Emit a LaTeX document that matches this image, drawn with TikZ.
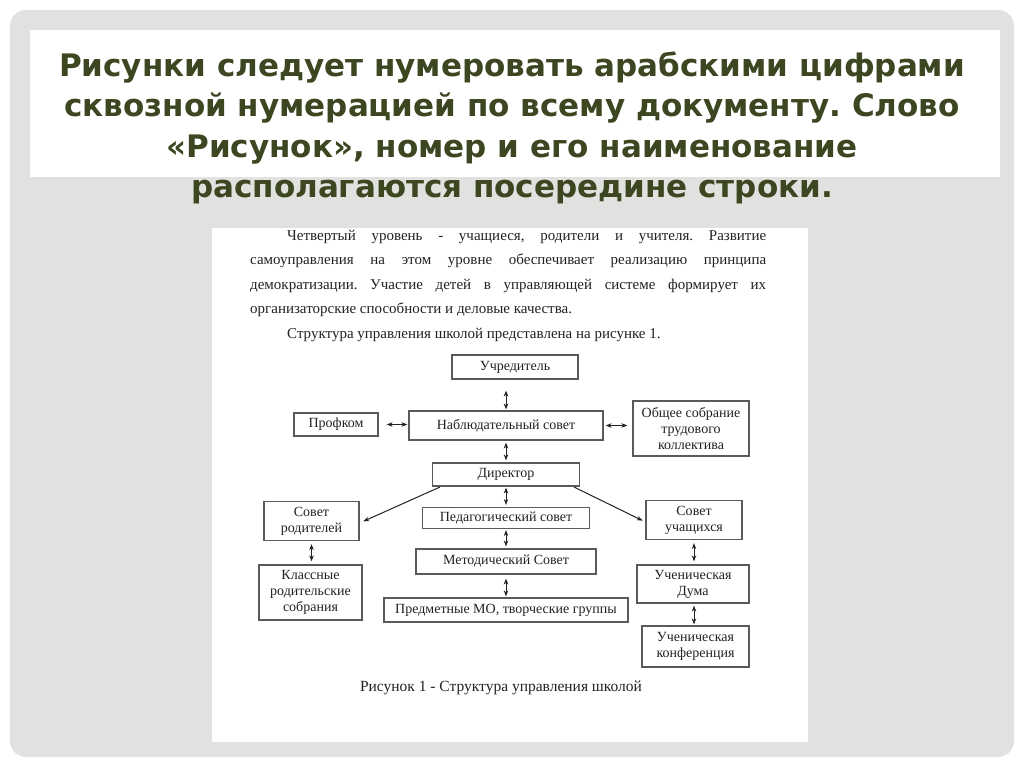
\documentclass[tikz,border=0pt]{standalone}
\usepackage{fontspec}
\setmainfont{Liberation Serif}
\newfontfamily\titlefont{DejaVu Sans}
\usetikzlibrary{arrows.meta}
\definecolor{panelc}{RGB}{225,225,223}
\definecolor{titlec}{RGB}{60,70,32}
\definecolor{docc}{RGB}{34,34,34}
\definecolor{boxc}{RGB}{90,90,90}
\frenchspacing
\tikzset{
  box/.style={draw=boxc, line width=1.2pt, fill=white, inner sep=1pt, align=center,
    text=docc, font=\fontsize{14}{16}\selectfont},
  arr/.style={{Stealth[length=6pt,width=4.5pt]}-{Stealth[length=6pt,width=4.5pt]}, line width=1pt, draw=docc},
  oarr/.style={-{Stealth[length=6pt,width=4.5pt]}, line width=1pt, draw=docc},
}
\begin{document}
\begin{tikzpicture}[x=1pt,y=-1pt]
\useasboundingbox (0,0) rectangle (1024,767);
\fill[white] (0,0) rectangle (1024,767);
\fill[panelc, rounded corners=16pt] (10,10) rectangle (1014,757);
\fill[white] (30,30) rectangle (1000,177);
\node[anchor=north, text=titlec, font=\titlefont\bfseries\fontsize{31}{40.5}\selectfont, align=center, inner sep=0] (title) at (512,51.5)
  {Рисунки следует нумеровать арабскими цифрами\\сквозной нумерацией по всему документу. Слово\\«Рисунок», номер и его наименование\\располагаются посередине строки.};
% document page
\fill[white] (212,228) rectangle (808,742);
\node[anchor=north west, inner sep=0, text width=516pt, align=justify, text=docc, font=\fontsize{15}{24.4}\selectfont\frenchspacing] (para) at (250,230)
  {\parindent=37pt\indent Четвертый уровень - учащиеся, родители и учителя. Развитие\linebreak самоуправления на этом уровне обеспечивает реализацию принципа\linebreak демократизации. Участие детей в управляющей системе формирует их\linebreak организаторские способности и деловые качества.\par
  \indent Структура управления школой представлена на рисунке 1.\par};
% boxes
\node[box, minimum width=126pt, minimum height=24pt] (uch) at (515,367) {Учредитель};
\node[box, minimum width=194pt, minimum height=29pt] (nab) at (506,425.5) {Наблюдательный совет};
\node[box, minimum width=84pt, minimum height=23pt] (prof) at (336,424.5) {Профком};
\node[box, minimum width=116pt, minimum height=55pt] (obsh) at (691,428.5) {Общее собрание\\трудового\\коллектива};
\node[box, minimum width=147pt, minimum height=23pt] (dir) at (506,474.5) {Директор};
\node[box, minimum width=95pt, minimum height=39pt] (sr) at (311.5,521) {Совет\\родителей};
\node[box, minimum width=167pt, minimum height=21pt] (ped) at (506,518) {Педагогический совет};
\node[box, minimum width=96pt, minimum height=39pt] (su) at (694,520) {Совет\\учащихся};
\node[box, minimum width=180pt, minimum height=25pt] (met) at (506,561.5) {Методический Совет};
\node[box, minimum width=103pt, minimum height=55pt] (kl) at (310.5,592.5) {Классные\\родительские\\собрания};
\node[box, minimum width=244pt, minimum height=24pt] (pred) at (506,610) {Предметные МО, творческие группы};
\node[box, minimum width=112pt, minimum height=38pt] (duma) at (693,584) {Ученическая\\Дума};
\node[box, minimum width=107pt, minimum height=41pt] (konf) at (695.5,646.5) {Ученическая\\конференция};
\node[text=docc, font=\fontsize{15.5}{17}\selectfont, inner sep=0] (cap) at (501,688) {Рисунок 1 - Структура управления школой};
% connectors
\draw[arr, shorten <=11pt, shorten >=1pt] (uch.south -| nab.north) -- (nab.north);
\draw[arr, shorten <=2pt, shorten >=2pt] (nab.south) -- (dir.north);
\draw[arr, shorten <=8pt, shorten >=1pt] (prof.east) -- (prof.east -| nab.west);
\draw[arr, shorten <=2pt, shorten >=5pt] (nab.east) -- (nab.east -| obsh.west);
\draw[oarr, shorten <=1pt, shorten >=4pt] ([xshift=9pt]dir.south west) -- ([yshift=-2pt]sr.east);
\draw[oarr, shorten <=1pt, shorten >=3pt] ([xshift=-7pt]dir.south east) -- ([yshift=-2pt]su.west);
\draw[arr, shorten <=1pt, shorten >=2pt] (dir.south) -- (ped.north);
\draw[arr, shorten <=1pt, shorten >=2pt] (ped.south) -- (met.north);
\draw[arr, shorten <=4pt, shorten >=1pt] (met.south) -- (pred.north);
\draw[arr, shorten <=3pt, shorten >=3pt] (sr.south) -- (sr.south |- kl.north);
\draw[arr, shorten <=3pt, shorten >=3pt] (su.south) -- (su.south |- duma.north);
\draw[arr, shorten <=2pt, shorten >=1pt] (duma.south -| su.south) -- (su.south |- konf.north);
\end{tikzpicture}
\end{document}
